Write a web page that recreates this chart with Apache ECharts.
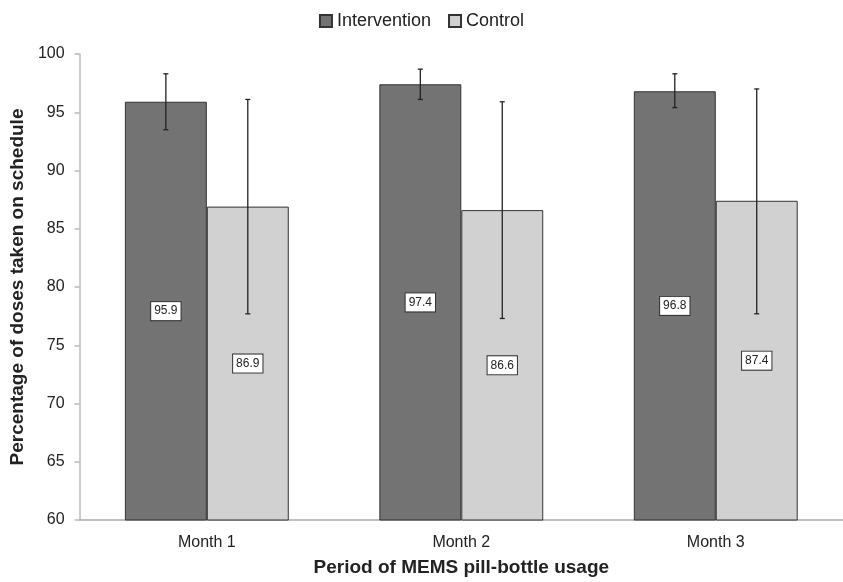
<!DOCTYPE html>
<html>
<head>
<meta charset="utf-8">
<script src="https://cdn.jsdelivr.net/npm/echarts@6/dist/echarts.min.js"></script>
<style>html,body{margin:0;padding:0;background:#fff;}#chart{width:843px;height:582px;}</style>
</head>
<body>
<div id="chart"></div>
<script>
const categories = ['Month 1', 'Month 2', 'Month 3'];
const interventionValues = [95.9, 97.4, 96.8];
const controlValues = [86.9, 86.6, 87.4];
const interventionLow = [93.5, 96.1, 95.4];
const interventionHigh = [98.3, 98.7, 98.3];
const controlLow = [77.7, 77.3, 77.7];
const controlHigh = [96.1, 95.9, 97.0];
const yMin = 60, yMax = 100, yStep = 5;

const BAR_FRAC = 0.322;
const font = 'Liberation Sans, Arial, Helvetica, sans-serif';

function errData(lo, hi) { return categories.map((c, i) => [i, lo[i], hi[i]]); }
function errRender(side) {
  return function (params, api) {
    const idx = api.value(0);
    const lo = api.coord([idx, api.value(1)]);
    const hi = api.coord([idx, api.value(2)]);
    const band = api.size([1, 0])[0];
    const w = band * BAR_FRAC;
    const x = lo[0] + side * w / 2;
    const cap = 2.5;
    const st = { stroke: '#222', lineWidth: 1.3 };
    return {
      type: 'group',
      children: [
        { type: 'line', shape: { x1: x, y1: hi[1], x2: x, y2: lo[1] }, style: st },
        { type: 'line', shape: { x1: x - cap, y1: hi[1], x2: x + cap, y2: hi[1] }, style: st },
        { type: 'line', shape: { x1: x - cap, y1: lo[1], x2: x + cap, y2: lo[1] }, style: st }
      ]
    };
  };
}

const labelStyle = {
  show: true, position: 'inside', color: '#222', fontSize: 12, fontFamily: font,
  backgroundColor: '#fff', borderColor: '#333', borderWidth: 1, padding: [2, 3, 2, 3], lineHeight: 14,
  formatter: p => p.value.toFixed(1)
};

const chart = echarts.init(document.getElementById('chart'), null, { renderer: 'canvas' });
chart.setOption({
  animation: false,
  backgroundColor: '#fff',
  textStyle: { fontFamily: font },
  legend: {
    top: 7, left: 'center', itemWidth: 12, itemHeight: 12, itemGap: 17,
    icon: 'rect',
    textStyle: { fontSize: 18, color: '#222', fontFamily: font },
    data: ['Intervention', 'Control']
  },
  grid: { left: 78, right: 0, top: 54, bottom: 57, containLabel: false },
  xAxis: {
    type: 'category', data: categories,
    axisLine: { lineStyle: { color: '#aaa', width: 1.5 } },
    axisTick: { show: false },
    axisLabel: { fontSize: 16, color: '#222', margin: 15, fontFamily: font },
    name: 'Period of MEMS pill-bottle usage', nameLocation: 'middle', nameGap: 38,
    nameTextStyle: { fontSize: 19, fontWeight: 'bold', color: '#222', fontFamily: font }
  },
  yAxis: {
    type: 'value', min: yMin, max: yMax, interval: yStep,
    axisLine: { show: true, lineStyle: { color: '#bbb', width: 1.5 } },
    axisTick: { show: true, length: 5, lineStyle: { color: '#bbb', width: 1.5 } },
    splitLine: { show: false },
    axisLabel: { fontSize: 16, color: '#222', margin: 15, fontFamily: font },
    name: 'Percentage of doses taken on schedule', nameLocation: 'middle', nameGap: 41,
    nameTextStyle: { fontSize: 19, fontWeight: 'bold', color: '#222', fontFamily: font }
  },
  series: [
    {
      name: 'Intervention', type: 'bar', data: interventionValues,
      barWidth: (BAR_FRAC * 100) + '%', barGap: '0%',
      itemStyle: { color: '#737373', borderColor: '#333', borderWidth: 1 },
      label: labelStyle, z: 2
    },
    {
      name: 'Control', type: 'bar', data: controlValues,
      barWidth: (BAR_FRAC * 100) + '%', barGap: '0%',
      itemStyle: { color: '#d0d1d0', borderColor: '#333', borderWidth: 1 },
      label: labelStyle, z: 2
    },
    {
      type: 'custom', name: 'errI', data: errData(interventionLow, interventionHigh),
      renderItem: errRender(-1), encode: { x: 0, y: [1, 2] }, z: 5, silent: true
    },
    {
      type: 'custom', name: 'errC', data: errData(controlLow, controlHigh),
      renderItem: errRender(1), encode: { x: 0, y: [1, 2] }, z: 5, silent: true
    }
  ]
});
</script>
</body>
</html>
